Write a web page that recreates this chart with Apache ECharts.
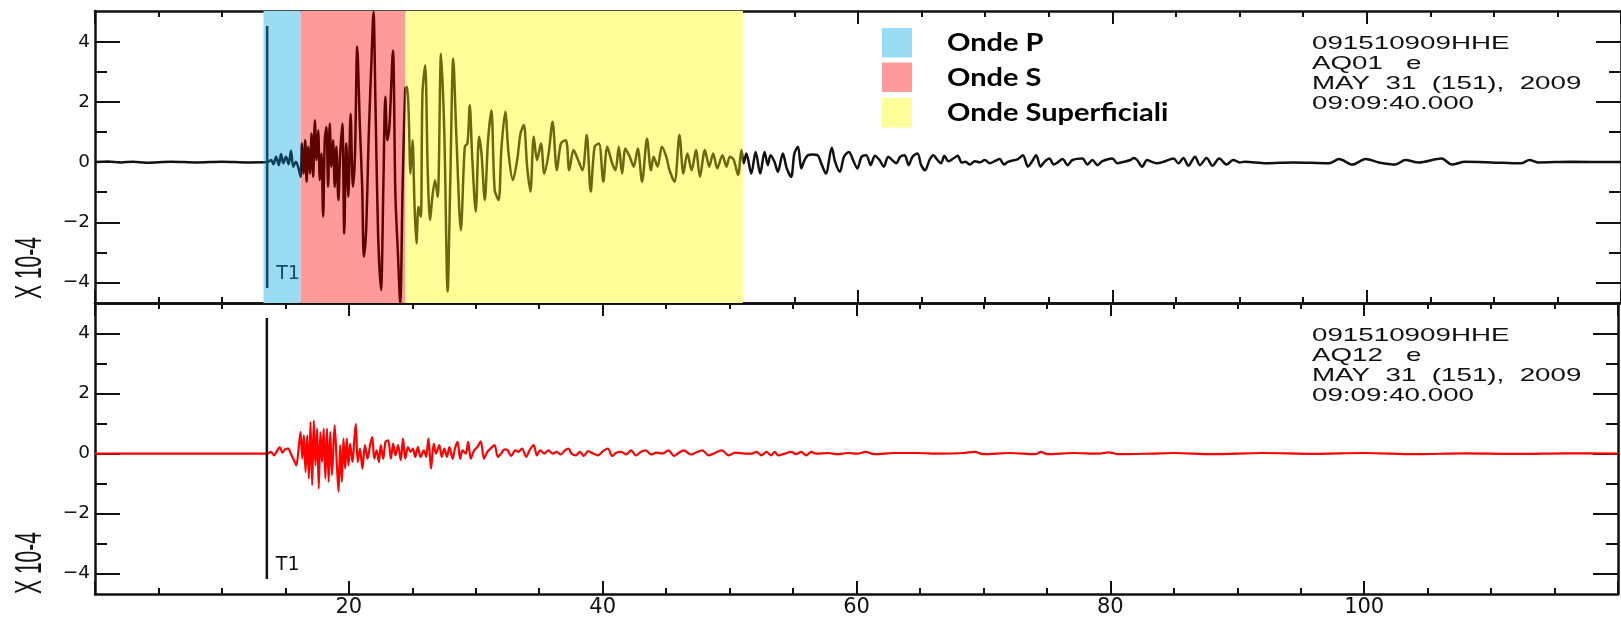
<!DOCTYPE html>
<html><head><meta charset="utf-8">
<script src="https://cdn.jsdelivr.net/npm/echarts@6/dist/echarts.min.js"></script>
<style>html,body{margin:0;padding:0;background:#fff}#c{width:1621px;height:618px}</style>
</head><body><div id="c"></div>
<script>
// ---------- DATA ----------
const xMin = 0, xMax = 120, xMajorInterval = 20;
const yMin = -4.68, yMax = 5.02;
const yMajorTicks = [-4, -2, 0, 2, 4];
const yMinorTicks = [-3, -1, 1, 3];

const bandNames = ['Onde P', 'Onde S', 'Onde Superficiali'];
const bandStart = [13.25, 16.17, 24.4];
const bandEnd = [16.17, 24.4, 50.95];

const t1Time = 13.54, t1Top = 4.52, t1Bottom = -4.18, t1Label = 'T1';
const yUnitLabel = 'X 10-4';
const headerTop = ['091510909HHE', 'AQ01   e', 'MAY  31  (151),  2009', '09:09:40.000'];
const headerBottom = ['091510909HHE', 'AQ12   e', 'MAY  31  (151),  2009', '09:09:40.000'];

// top trace (AQ01), [time s, amplitude x1e-4]
const topPre = [[0,0],[1,0.02],[2,-0.01],[3,0.01],[4,-0.02],[6,0.01],[8,-0.01],[10,0.01],[12,-0.01],[13.59,0]];
const topP = [[13.85,0.07],[14.03,-0.07],[14.24,0.18],[14.45,-0.10],[14.63,0.27],[14.81,-0.04],[15.02,0.18],[15.23,-0.07],[15.41,0.38],[15.59,-0.15],[15.80,0.01],[16.01,-0.21],[16.17,-0.49]];
const topS = [[16.27,0.62],[16.40,-0.38],[16.53,0.73],[16.64,-0.65],[16.77,0.51],[16.90,-0.38],[17.03,0.95],[17.16,-0.49],[17.29,1.39],[17.42,0.07],[17.55,1.06],[17.68,-0.60],[17.81,0.29],[17.94,-1.81],[18.07,0.73],[18.20,1.17],[18.33,-0.82],[18.46,1.28],[18.59,-0.15],[18.72,0.73],[18.85,-0.82],[18.98,0.51],[19.14,-1.26],[19.27,0.18],[19.45,1.28],[19.60,-2.37],[19.76,0.62],[19.92,-1.15],[20.10,1.61],[20.28,-0.82],[20.44,0.18],[20.62,3.83],[20.83,1.17],[21.01,-0.82],[21.14,-3.14],[21.32,-2.26],[21.53,0.95],[21.74,3.38],[21.90,4.99],[22.05,2.06],[22.26,-2.37],[22.49,-4.25],[22.68,-0.71],[22.83,2.17],[22.99,0.73],[23.15,1.17],[23.43,3.71],[23.62,-1.04],[23.82,-3.03],[24.00,-4.69],[24.19,-0.82],[24.40,2.44]];
const topSurf = [[24.53,2.50],[24.66,1.72],[24.81,-0.38],[24.97,0.73],[25.13,-1.48],[25.28,-2.70],[25.44,-1.48],[25.62,-1.81],[25.75,2.28],[25.96,3.22],[26.17,-0.38],[26.35,-1.92],[26.53,-1.15],[26.74,-0.60],[26.95,-1.15],[27.21,3.60],[27.47,0.95],[27.73,-4.30],[27.94,-0.60],[28.17,3.44],[28.43,0.73],[28.77,-2.26],[29.08,0.51],[29.29,0.62],[29.47,1.89],[29.66,0.18],[29.94,-1.65],[30.20,0.84],[30.39,0.29],[30.65,-1.26],[30.91,0.73],[31.17,1.72],[31.43,-0.93],[31.74,-1.26],[31.95,0.40],[32.26,1.67],[32.52,0.29],[32.86,-0.60],[33.20,0.07],[33.46,0.95],[33.72,1.23],[33.98,-0.15],[34.24,-0.98],[34.50,0.84],[34.76,0.07],[35.07,0.62],[35.33,-0.38],[35.67,0.29],[35.98,1.34],[36.32,-0.27],[36.64,0.62],[37.03,0.73],[37.29,-0.27],[37.63,0.40],[37.99,0.07],[38.33,-0.27],[38.67,0.90],[38.98,-0.98],[39.29,0.51],[39.63,0.62],[39.97,-0.65],[40.28,0.51],[40.67,-0.04],[40.93,-0.27],[41.19,0.51],[41.45,-0.38],[41.71,0.45],[42.05,0.18],[42.36,-0.15],[42.68,0.45],[43.02,-0.65],[43.41,0.78],[43.72,-0.27],[43.93,0.18],[44.24,-0.15],[44.58,0.51],[44.92,0.18],[45.18,-0.27],[45.57,-0.65],[45.96,0.90],[46.27,-0.38],[46.58,0.29],[46.92,-0.27],[47.26,0.40],[47.57,-0.49],[47.96,0.40],[48.30,-0.15],[48.61,0.29],[48.93,-0.21],[49.34,0.23],[49.66,-0.15],[49.92,0.18],[50.23,0.07],[50.57,-0.43],[50.83,0.40]];
const topCoda = [[51.01,-0.04],[51.22,0.29],[51.61,-0.38],[51.95,0.34],[52.31,-0.38],[52.65,0.34],[52.91,-0.10],[53.12,0.23],[53.43,0.01],[53.70,-0.32],[54.09,0.29],[54.40,-0.21],[54.74,-0.49],[55.00,0.29],[55.28,0.51],[55.54,-0.21],[55.80,0.07],[56.07,0.23],[56.43,0.25],[56.82,0.23],[57.16,-0.10],[57.47,-0.38],[57.94,0.48],[58.20,0.01],[58.57,-0.32],[58.90,0.18],[59.29,0.34],[59.61,0.07],[59.95,-0.21],[60.28,0.18],[60.65,0.23],[60.99,-0.10],[61.33,0.21],[61.69,0.07],[62.03,-0.15],[62.37,0.18],[62.68,0.07],[63.00,-0.04],[63.33,0.18],[63.67,0.23],[63.98,-0.10],[64.29,0.18],[64.68,0.29],[64.97,-0.10],[65.28,-0.27],[65.62,0.07],[65.93,0.23],[66.25,0.07],[66.53,-0.04],[66.79,0.21],[67.11,0.03],[67.50,0.12],[67.84,0.21],[68.15,-0.01],[68.46,0.01],[68.80,-0.08],[69.19,0.03],[69.58,-0.01],[69.97,0.07],[70.36,-0.04],[70.75,0.03],[71.14,0.10],[71.48,-0.08],[71.79,0.01],[72.58,0.10],[72.97,0.23],[73.36,-0.15],[73.67,0.01],[74.01,0.23],[74.35,-0.15],[74.66,0.01],[75.05,0.12],[75.39,-0.08],[75.70,-0.01],[76.09,0.10],[76.48,-0.10],[76.87,0.07],[77.65,0.12],[78.04,-0.08],[78.43,0.07],[78.83,-0.10],[79.22,0.03],[80.00,0.12],[80.39,-0.04],[80.91,0.01],[81.43,0.07],[81.69,0.14],[81.95,0.07],[82.34,-0.15],[82.73,0.07],[83.12,0.01],[83.51,-0.04],[84.03,0.01],[84.81,0.12],[85.20,-0.04],[85.59,0.14],[85.98,-0.12],[86.50,0.18],[86.89,-0.10],[87.41,0.14],[87.88,-0.12],[88.40,0.12],[88.98,-0.08],[89.50,0.07],[90.02,-0.01],[90.41,0.01],[92.10,-0.04],[94.19,-0.01],[97.05,-0.04],[97.83,0.10],[98.88,-0.08],[99.91,0.10],[100.96,-0.01],[102.26,-0.08],[103.04,0.07],[104.08,-0.01],[105.90,0.12],[106.69,-0.08],[107.73,0.01],[109.81,-0.01],[112.15,-0.04],[112.80,0.07],[113.46,-0.01],[116.06,0.01],[120,0]];

// bottom trace (AQ12)
const botPre = [[0,0],[13.59,0]];
const botBurst = [[13.85,0.06],[14.11,-0.06],[14.37,0.11],[14.56,0.22],[14.76,0.03],[14.97,0.14],[15.23,0.17],[15.42,0],[15.68,-0.22],[15.86,-0.39],[16.07,0.28],[16.20,0.72],[16.33,-0.17],[16.46,0.61],[16.59,-0.61],[16.72,0.61],[16.85,-0.83],[16.98,1.05],[17.11,-1.05],[17.24,1.10],[17.37,-0.39],[17.50,0.83],[17.63,-1.16],[17.76,0.72],[17.89,-0.28],[18.02,0.83],[18.15,-0.83],[18.28,0.83],[18.41,-0.94],[18.54,0.72],[18.67,-0.72],[18.88,0.94],[19.06,-0.39],[19.19,-1.27],[19.32,0.28],[19.45,-0.94],[19.58,0.50],[19.71,-0.50],[19.84,0.50],[19.97,-0.39],[20.10,0.33],[20.29,-0.28],[20.44,0.50],[20.55,0.99],[20.70,-0.28],[20.88,0.17],[21.07,-0.50],[21.27,0.28],[21.48,-0.17],[21.67,0.28],[21.85,0.55],[22.00,-0.17],[22.19,0.11],[22.37,-0.28],[22.52,0.28],[22.71,-0.17],[22.89,0.39],[23.10,0.44],[23.31,-0.17],[23.49,0.33],[23.67,-0.06],[23.88,0.28],[24.09,-0.22],[24.27,0.50],[24.45,-0.17]];
const botCoda = [[24.66,0.22],[24.87,0.06],[25.05,0.17],[25.23,-0.11],[25.44,0.22],[25.65,-0.11],[25.91,0.11],[26.09,-0.11],[26.27,0.50],[26.48,-0.50],[26.69,0.33],[26.87,0],[27.13,0.28],[27.32,-0.11],[27.52,0.17],[27.73,-0.11],[27.92,0.22],[28.18,-0.17],[28.36,0.17],[28.57,0.39],[28.77,-0.17],[28.96,0.11],[29.22,0],[29.40,0.39],[29.61,-0.17],[29.87,0.11],[30.13,0.22],[30.39,0.41],[30.65,-0.17],[30.91,0.06],[31.17,0.17],[31.48,0.28],[31.74,-0.11],[32.00,0],[32.26,0.14],[32.52,0.11],[32.78,-0.08],[33.12,0.11],[33.38,0.06],[33.64,0.17],[33.98,-0.11],[34.24,0.11],[34.56,0.28],[34.82,-0.06],[35.08,0.11],[35.39,0],[35.73,0.11],[36.07,0],[36.38,0.06],[36.69,-0.03],[37.03,0.11],[37.29,0.17],[37.55,0],[37.89,-0.06],[38.20,0.06],[38.51,-0.08],[38.85,0.08],[39.24,0],[39.63,-0.06],[40.02,0.08],[40.41,0.17],[40.75,-0.08],[41.07,0.03],[41.46,0.06],[41.85,-0.03],[42.24,0.11],[42.63,-0.06],[43.02,0.06],[43.41,0.11],[43.80,-0.03],[44.24,0.03],[44.71,0],[45.18,0.11],[45.62,-0.08],[46.01,0.03],[46.40,0.11],[46.93,-0.03],[47.32,0.03],[47.84,0.11],[48.36,-0.06],[48.88,0.03],[49.40,0.11],[49.92,-0.06],[50.44,0.03],[51.22,0],[51.74,0],[52.13,0.06],[52.52,-0.06],[52.91,0.06],[53.25,-0.06],[53.56,0.06],[53.82,-0.06],[54.34,0],[54.86,0.06],[55.25,-0.02],[55.64,0.06],[56.04,-0.06],[56.43,0.06],[56.82,0],[57.73,0.02],[58.51,-0.02],[59.29,0.02],[60.07,0],[60.72,0.06],[61.37,-0.02],[62.94,0.02],[64.76,0.02],[66.58,0],[68.40,0.02],[69.32,0.06],[69.97,-0.02],[72.05,0.02],[74.13,-0.02],[74.52,0.06],[75.05,-0.02],[77.00,0.02],[79.08,0],[79.86,0.04],[80.65,-0.02],[83.25,0],[85,0.02],[88,-0.02],[92,0.02],[96,-0.01],[100,0.02],[104,-0.02],[108,0.01],[112,-0.01],[116,0.01],[120,0]];

// ---------- STYLE ----------
const FRAME = '#111';
const bandColors = ['#9bdcf5', '#ff9a9a', '#ffff99'];
const traceColors = { pre: '#111', p: '#0c3d55', s: '#5e0303', surf: '#6d6810', coda: '#111' };

const topTrace = [].concat(topPre, topP, topS, topSurf, topCoda);
const botTrace = [].concat(botPre, botBurst, botCoda);

function xAxisDef(gridIndex, position, showLabels) {
  return {
    type: 'value', gridIndex, position, min: xMin, max: xMax, interval: xMajorInterval,
    axisLine: { show: true, onZero: false, lineStyle: { color: FRAME, width: 2.5 } },
    axisTick: { show: true, inside: true, length: 13, lineStyle: { color: FRAME, width: 2 } },
    minorTick: { show: true, splitNumber: 4, length: 6, lineStyle: { color: FRAME, width: 2 } },
    splitLine: { show: false }, minorSplitLine: { show: false },
    axisLabel: {
      show: showLabels, margin: 3, color: '#111', fontFamily: 'DejaVu Sans', fontSize: 21,
      formatter: v => (v === xMin || v === xMax) ? '' : String(v)
    }
  };
}
function yAxisDef(gridIndex, position, ticks, len, major, showLabels) {
  return {
    type: 'value', gridIndex, position, min: yMin, max: yMax, offset: 0,
    axisLine: { show: major, onZero: false, lineStyle: { color: FRAME, width: 2.5 } },
    axisTick: { show: true, inside: true, length: len, customValues: ticks, lineStyle: { color: FRAME, width: 2 } },
    splitLine: { show: false },
    axisLabel: {
      show: showLabels, customValues: ticks, margin: 5, color: '#111',
      fontFamily: 'DejaVu Sans', fontSize: 18.5,
      formatter: v => String(v).replace('-', '\u2212')
    }
  };
}

const xAxes = [
  xAxisDef(0, 'bottom', false), xAxisDef(0, 'top', false),
  xAxisDef(1, 'bottom', true), xAxisDef(1, 'top', false)
];
const yAxes = [];
[0, 1].forEach(g => {
  yAxes.push(yAxisDef(g, 'left', yMajorTicks, 25, true, true));
  yAxes.push(yAxisDef(g, 'left', yMinorTicks, 12, false, false));
  yAxes.push(yAxisDef(g, 'right', yMajorTicks, 25, true, false));
  yAxes.push(yAxisDef(g, 'right', yMinorTicks, 12, false, false));
});

function t1Series(xi, yi, color) {
  return {
    type: 'line', xAxisIndex: xi, yAxisIndex: yi, z: 6, silent: true,
    showSymbol: true, symbol: 'circle', symbolSize: 0,
    lineStyle: { color, width: 2.5 },
    data: [
      [t1Time, t1Top],
      { value: [t1Time, t1Bottom], label: { show: true, formatter: t1Label, position: 'right', distance: 9, offset: [0, -14], color, fontFamily: 'DejaVu Sans', fontSize: 19 } }
    ]
  };
}

const legendGraphics = [];
bandNames.forEach((name, i) => {
  const top = [28, 62.5, 98][i];
  legendGraphics.push({ type: 'rect', shape: { x: 882, y: top, width: 30, height: 29.5 }, style: { fill: bandColors[i] } });
  legendGraphics.push({ type: 'text', x: 947, y: top + 15, scaleX: 1.16,
    style: { text: name, font: 'bold 25px Lato', fill: '#000', verticalAlign: 'middle', textVerticalAlign: 'middle' } });
});

function headerGraphic(lines, y) {
  return { type: 'text', x: 1312, y, scaleX: 1.5,
    style: { text: lines.join('\n'), font: '18.5px "Liberation Sans"', lineHeight: 20, fill: '#111', verticalAlign: 'top', textVerticalAlign: 'top' } };
}
function unitGraphic(y) {
  return { type: 'text', x: 31, y, rotation: Math.PI / 2, scaleY: 1.8,
    style: { text: yUnitLabel, font: '21px "Liberation Sans"', fill: '#111', align: 'center', textAlign: 'center', verticalAlign: 'middle', textVerticalAlign: 'middle' } };
}

const option = {
  animation: false,
  backgroundColor: '#fff',
  grid: [
    { left: 95, right: -8, top: 11, height: 292, containLabel: false },
    { left: 95, right: -8, top: 303, height: 293.5, containLabel: false }
  ],
  xAxis: xAxes,
  yAxis: yAxes,
  visualMap: [{
    type: 'piecewise', show: false, seriesIndex: 1, dimension: 0,
    pieces: [
      { lt: bandStart[0], color: traceColors.pre },
      { gte: bandStart[0], lt: bandEnd[0], color: traceColors.p },
      { gte: bandStart[1], lt: bandEnd[1], color: traceColors.s },
      { gte: bandStart[2], lt: bandEnd[2], color: traceColors.surf },
      { gte: bandEnd[2], color: traceColors.coda }
    ]
  }],
  series: [
    { type: 'line', xAxisIndex: 0, yAxisIndex: 0, z: 1, silent: true, data: [], showSymbol: false,
      markArea: { silent: true, itemStyle: { opacity: 1 },
        data: bandNames.map((n, i) => [{ xAxis: bandStart[i], itemStyle: { color: bandColors[i] } }, { xAxis: bandEnd[i] }]) } },
    { type: 'line', xAxisIndex: 0, yAxisIndex: 0, z: 4, silent: true, showSymbol: false,
      smooth: 0.3, lineStyle: { width: 2.5 }, data: topTrace },
    t1Series(0, 0, '#164a62'),
    { type: 'line', xAxisIndex: 2, yAxisIndex: 4, z: 4, silent: true, showSymbol: false,
      smooth: 0.3, lineStyle: { width: 2.2, color: '#ff0000' }, itemStyle: { color: '#ff0000' }, data: botTrace },
    t1Series(2, 4, '#111')
  ],
  graphic: [].concat(legendGraphics, [
    headerGraphic(headerTop, 34), headerGraphic(headerBottom, 326),
    unitGraphic(268), unitGraphic(563)
  ])
};

const chart = echarts.init(document.getElementById('c'), null, { renderer: 'canvas' });
chart.setOption(option);
</script>
</body></html>
